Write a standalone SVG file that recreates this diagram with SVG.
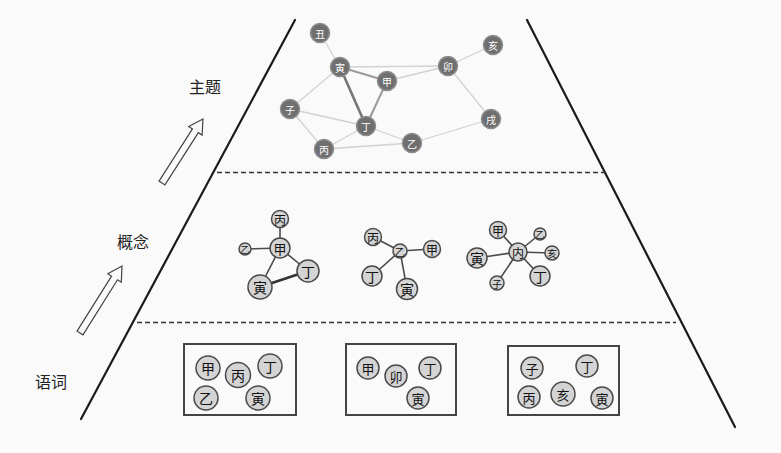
<svg xmlns="http://www.w3.org/2000/svg" width="781" height="453" viewBox="0 0 781 453">
<style>
.frame{stroke:#1a1a1a;stroke-width:2.2;fill:none;stroke-linecap:round}
.dash{stroke:#333;stroke-width:1.4;stroke-dasharray:5,3;fill:none}
.arrow{fill:#fafafa;stroke:#444;stroke-width:1.2;stroke-linejoin:miter}
.lbl{font-family:"Noto Sans CJK SC",sans-serif;font-size:16px;fill:#222;text-anchor:middle;dominant-baseline:central}
.tn circle{fill:#6f6f6f;stroke:#8c8c8c;stroke-width:1.5}
.tn text{font-family:"Noto Sans CJK SC",sans-serif;font-size:10px;fill:#fff;text-anchor:middle;dominant-baseline:central}
.te{stroke:#d2d2d2;stroke-width:1.3;fill:none}
.te2{stroke:#9a9a9a;stroke-width:2;fill:none}
.te3{stroke:#767676;stroke-width:2.6;fill:none}
.mn circle{fill:#d4d4d4;stroke:#4a4a4a;stroke-width:1.5}
.mn text{font-family:"Noto Sans CJK SC",sans-serif;fill:#111;text-anchor:middle;dominant-baseline:central}
.me{stroke:#4a4a4a;stroke-width:1.6;fill:none}
.me2{stroke:#333;stroke-width:2.8;fill:none}
.box{fill:none;stroke:#444;stroke-width:2}
</style>
<rect width="781" height="453" fill="#fafafa"/>
<g id="frame">
<line class="frame" x1="295" y1="20" x2="81" y2="419"/>
<line class="frame" x1="527" y1="20" x2="735" y2="427"/>
<line class="dash" x1="217" y1="172.5" x2="605" y2="172.5"/>
<line class="dash" x1="137" y1="322.5" x2="676" y2="322.5"/>
</g>
<g id="arrows">
<polygon class="arrow" transform="translate(162,183) rotate(-57.4)" points="0,-3.5 62,-3.5 62,-8 76,0 62,8 62,3.5 0,3.5"/>
<polygon class="arrow" transform="translate(80,333) rotate(-57.9)" points="0,-3.5 65,-3.5 65,-8 79,0 65,8 65,3.5 0,3.5"/>
</g>
<g id="labels">
<text class="lbl" x="205" y="86">主题</text>
<text class="lbl" x="133" y="241">概念</text>
<text class="lbl" x="51" y="381">语词</text>
</g>
<g id="connectors">
<line class="te" x1="320" y1="33" x2="340" y2="67"/>
<line class="te" x1="340" y1="67" x2="448" y2="66"/>
<line class="te" x1="387" y1="81" x2="448" y2="66"/>
<line class="te" x1="448" y1="66" x2="493" y2="45"/>
<line class="te" x1="448" y1="66" x2="491" y2="119"/>
<line class="te" x1="340" y1="67" x2="290" y2="109"/>
<line class="te" x1="290" y1="109" x2="366" y2="126"/>
<line class="te" x1="290" y1="109" x2="324" y2="149"/>
<line class="te" x1="324" y1="149" x2="366" y2="126"/>
<line class="te" x1="324" y1="149" x2="412" y2="143"/>
<line class="te" x1="366" y1="126" x2="412" y2="143"/>
<line class="te" x1="412" y1="143" x2="491" y2="119"/>
<line class="te2" x1="340" y1="67" x2="387" y2="81"/>
<line class="te2" x1="387" y1="81" x2="366" y2="126"/>
<line class="te3" x1="340" y1="67" x2="366" y2="126"/>
<line class="me" x1="280" y1="219" x2="280" y2="248"/>
<line class="me" x1="245" y1="249" x2="280" y2="248"/>
<line class="me" x1="280" y1="248" x2="308" y2="271"/>
<line class="me" x1="280" y1="248" x2="260" y2="287"/>
<line class="me2" x1="260" y1="287" x2="308" y2="271"/>
<line class="me" x1="373" y1="237" x2="400" y2="251"/>
<line class="me" x1="400" y1="251" x2="432" y2="249"/>
<line class="me" x1="400" y1="251" x2="372" y2="276"/>
<line class="me" x1="400" y1="251" x2="407" y2="289"/>
<line class="me" x1="518" y1="252" x2="498" y2="230"/>
<line class="me" x1="518" y1="252" x2="540" y2="234"/>
<line class="me" x1="518" y1="252" x2="552" y2="253"/>
<line class="me" x1="518" y1="252" x2="477" y2="258"/>
<line class="me" x1="518" y1="252" x2="540" y2="276"/>
<line class="me" x1="518" y1="252" x2="497" y2="283"/>
</g>
<g id="topic" class="tn">
<g id="t-chou"><circle cx="320" cy="33" r="9.5"/><text x="320" y="33">丑</text></g>
<g id="t-yin"><circle cx="340" cy="67" r="9.5"/><text x="340" y="67">寅</text></g>
<g id="t-jia"><circle cx="387" cy="81" r="9.5"/><text x="387" y="81">甲</text></g>
<g id="t-mao"><circle cx="448" cy="66" r="9.5"/><text x="448" y="66">卯</text></g>
<g id="t-hai"><circle cx="493" cy="45" r="9.5"/><text x="493" y="45">亥</text></g>
<g id="t-zi"><circle cx="290" cy="109" r="9.5"/><text x="290" y="109">子</text></g>
<g id="t-ding"><circle cx="366" cy="126" r="9.5"/><text x="366" y="126">丁</text></g>
<g id="t-yi"><circle cx="412" cy="143" r="9.5"/><text x="412" y="143">乙</text></g>
<g id="t-bing"><circle cx="324" cy="149" r="9.5"/><text x="324" y="149">丙</text></g>
<g id="t-xu"><circle cx="491" cy="119" r="9.5"/><text x="491" y="119">戌</text></g>
</g>
<g id="concept" class="mn">
<g id="c1-bing"><circle cx="280" cy="219" r="8.5"/><text x="280" y="219" font-size="12">丙</text></g>
<g id="c1-jia"><circle cx="280" cy="248" r="10"/><text x="280" y="248" font-size="13">甲</text></g>
<g id="c1-yi"><circle cx="245" cy="249" r="6"/><text x="245" y="249" font-size="9">乙</text></g>
<g id="c1-ding"><circle cx="308" cy="271" r="11"/><text x="308" y="271" font-size="14">丁</text></g>
<g id="c1-yin"><circle cx="260" cy="287" r="12"/><text x="260" y="287" font-size="14">寅</text></g>
<g id="c2-bing"><circle cx="373" cy="237" r="8.5"/><text x="373" y="237" font-size="12">丙</text></g>
<g id="c2-yi"><circle cx="400" cy="251" r="7"/><text x="400" y="251" font-size="10">乙</text></g>
<g id="c2-jia"><circle cx="432" cy="249" r="8.5"/><text x="432" y="249" font-size="12">甲</text></g>
<g id="c2-ding"><circle cx="372" cy="276" r="10"/><text x="372" y="276" font-size="14">丁</text></g>
<g id="c2-yin"><circle cx="407" cy="289" r="10.5"/><text x="407" y="289" font-size="14">寅</text></g>
<g id="c3-jia"><circle cx="498" cy="230" r="8.5"/><text x="498" y="230" font-size="12">甲</text></g>
<g id="c3-yi"><circle cx="540" cy="234" r="6"/><text x="540" y="234" font-size="9">乙</text></g>
<g id="c3-hai"><circle cx="552" cy="253" r="7"/><text x="552" y="253" font-size="10">亥</text></g>
<g id="c3-nei"><circle cx="518" cy="252" r="9"/><text x="518" y="252" font-size="12">内</text></g>
<g id="c3-yin"><circle cx="477" cy="258" r="10"/><text x="477" y="258" font-size="14">寅</text></g>
<g id="c3-ding"><circle cx="540" cy="276" r="10"/><text x="540" y="276" font-size="14">丁</text></g>
<g id="c3-zi"><circle cx="497" cy="283" r="7"/><text x="497" y="283" font-size="10">子</text></g>
</g>
<g id="words" class="mn">
<g id="w1"><rect class="box" x="184" y="344" width="112" height="71"/>
<g><circle cx="208" cy="368" r="12"/><text x="208" y="368" font-size="14">甲</text></g>
<g><circle cx="238" cy="375" r="12.5"/><text x="238" y="375" font-size="14">丙</text></g>
<g><circle cx="270" cy="366" r="12"/><text x="270" y="366" font-size="14">丁</text></g>
<g><circle cx="206" cy="398" r="12"/><text x="206" y="398" font-size="14">乙</text></g>
<g><circle cx="258" cy="398" r="12"/><text x="258" y="398" font-size="14">寅</text></g>
</g>
<g id="w2"><rect class="box" x="346" y="344" width="110" height="71"/>
<g><circle cx="368" cy="368" r="11"/><text x="368" y="368" font-size="13">甲</text></g>
<g><circle cx="396" cy="376" r="11"/><text x="396" y="376" font-size="13">卯</text></g>
<g><circle cx="430" cy="368" r="11"/><text x="430" y="368" font-size="13">丁</text></g>
<g><circle cx="418" cy="398" r="11"/><text x="418" y="398" font-size="13">寅</text></g>
</g>
<g id="w3"><rect class="box" x="508" y="346" width="111" height="69"/>
<g><circle cx="532" cy="368" r="11"/><text x="532" y="368" font-size="13">子</text></g>
<g><circle cx="587" cy="366" r="11"/><text x="587" y="366" font-size="13">丁</text></g>
<g><circle cx="529" cy="397" r="11"/><text x="529" y="397" font-size="13">丙</text></g>
<g><circle cx="563" cy="394" r="12"/><text x="563" y="394" font-size="13">亥</text></g>
<g><circle cx="602" cy="398" r="11"/><text x="602" y="398" font-size="13">寅</text></g>
</g>
</g>
</svg>
